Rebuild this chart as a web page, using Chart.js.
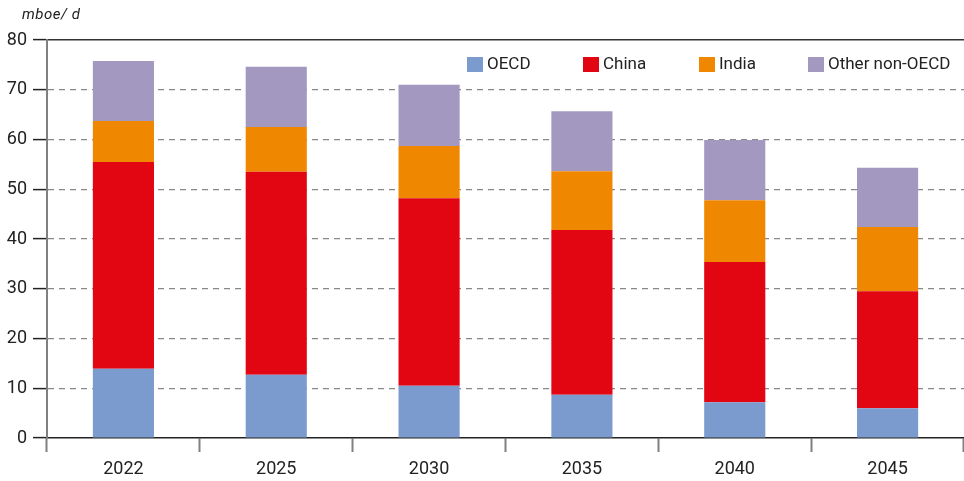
<!DOCTYPE html>
<html>
<head>
<meta charset="utf-8">
<script src="https://cdn.jsdelivr.net/npm/chart.js@4.4.1/dist/chart.umd.min.js"></script>
<style>
    html, body { margin: 0; padding: 0; background: #fff; }
    #wrap { position: relative; width: 964px; height: 481px; }
    #unit { position: absolute; left: 22px; top: 5px; font: italic 15px Roboto, sans-serif; color: #222; letter-spacing: 0.5px; }
</style>
</head>
<body>
<div id="wrap">
    <div id="unit">mboe/ d</div>
    <canvas id="chart" width="964" height="481"></canvas>
</div>
<script>
'use strict';

const YEARS = ['2022', '2025', '2030', '2035', '2040', '2045'];
const OECD = [13.9, 12.7, 10.5, 8.7, 7.2, 6.0];
const CHINA = [41.6, 40.8, 37.7, 33.1, 28.2, 23.5];
const INDIA = [8.2, 9.0, 10.5, 11.8, 12.4, 12.9];
const OTHER = [12.1, 12.1, 12.3, 12.1, 12.1, 11.9];

const COLORS = { oecd: '#7b9bcf', china: '#e20613', india: '#f08700', other: '#a398bf' };
const FONT = 'Roboto, sans-serif';
const TEXT = '#222';

// legend drawn inside the plot, top right
const insideLegend = {
    id: 'insideLegend',
    afterDraw(chart) {
        let ctx = chart.ctx;
        let starts = [467, 583, 699, 808];
        ctx.save();
        ctx.font = '17px ' + FONT;
        ctx.textBaseline = 'middle';
        chart.data.datasets.forEach((ds, i) => {
            let x = starts[i];
            ctx.fillStyle = ds.backgroundColor;
            ctx.fillRect(x, 57, 16, 15);
            ctx.fillStyle = TEXT;
            ctx.fillText(ds.label, x + 20, 65);
        });
        ctx.restore();
    }
};

let dataset = (label, data, color) => ({
    label, data, backgroundColor: color, borderWidth: 0,
    barPercentage: 0.4, categoryPercentage: 1
});

new Chart(document.getElementById('chart'), {
    type: 'bar',
    data: {
        labels: YEARS,
        datasets: [
            dataset('OECD', OECD, COLORS.oecd),
            dataset('China', CHINA, COLORS.china),
            dataset('India', INDIA, COLORS.india),
            dataset('Other non-OECD', OTHER, COLORS.other)
        ]
    },
    options: {
        responsive: false,
        animation: false,
        layout: { padding: { top: 40, right: 0, left: 0, bottom: 0 } },
        plugins: { legend: { display: false }, tooltip: { enabled: false } },
        scales: {
            x: {
                stacked: true,
                grid: { offset: true, drawOnChartArea: false, drawTicks: true, tickLength: 14, tickColor: '#808080', tickWidth: 2 },
                border: { display: true, color: '#222', width: 1.5 },
                ticks: { color: TEXT, font: { family: FONT, size: 18 }, padding: 7 },
                afterFit: scale => { scale.height = 43; }
            },
            top: {
                position: 'top',
                type: 'category',
                labels: YEARS,
                grid: { display: false },
                ticks: { display: false },
                border: { display: true, color: '#333', width: 1.5 },
                afterFit: scale => { scale.height = 0; }
            },
            y: {
                stacked: true,
                min: 0,
                max: 80,
                ticks: { stepSize: 10, color: TEXT, font: { family: FONT, size: 18 }, padding: 6 },
                grid: {
                    color: ctx => (ctx.tick.value === 0 || ctx.tick.value === 80) ? 'rgba(0,0,0,0)' : '#888',
                    lineWidth: 1.2,
                    drawTicks: true,
                    tickLength: 14,
                    tickColor: '#222',
                    tickWidth: 1.5,
                    tickBorderDash: []
                },
                border: { display: true, color: '#808080', width: 2, dash: [6, 5] },
                afterFit: scale => { scale.width = 47; }
            }
        }
    },
    plugins: [insideLegend]
});
</script>
</body>
</html>
